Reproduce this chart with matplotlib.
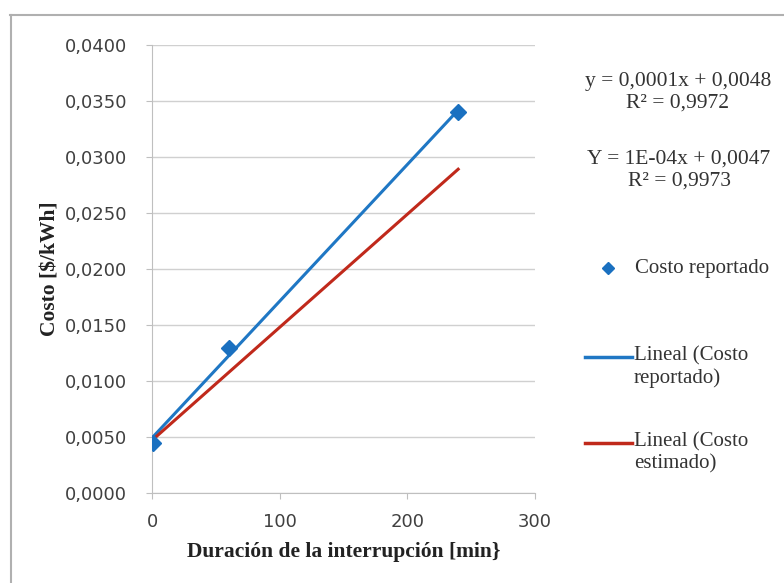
import matplotlib
matplotlib.use('Agg')
import matplotlib.pyplot as plt
from matplotlib.lines import Line2D
from matplotlib.ticker import FuncFormatter
import numpy as np

duracion = [1, 60, 240]
costo_reportado = [0.0045, 0.0130, 0.0340]
costo_estimado = [0.0048, 0.0108, 0.0289]

x_ticks = [0, 100, 200, 300]
y_ticks = np.arange(0, 0.0401, 0.005)

BLUE = '#1f77c4'
RED = '#c0291b'
W, H = 784, 583


def fx(px):
    return px / W


def fy(py):
    return 1 - py / H


def make_chart():
    fig = plt.figure(figsize=(7.84, 5.83), dpi=100)
    ax = fig.add_axes([0.194, 0.154, 0.488, 0.769])

    x = np.array(duracion)
    p1 = np.polyfit(x, costo_reportado, 1)
    p2 = np.polyfit(x, costo_estimado, 1)
    ax.plot(x, np.polyval(p1, x), color=BLUE, lw=2.2, zorder=3)
    ax.plot(x, np.polyval(p2, x), color=RED, lw=2.2, zorder=3)
    ax.plot(x, costo_reportado, 'D', color='#1a70c0', ms=8, zorder=4)

    ax.set_xlim(0, 300)
    ax.set_ylim(0, 0.04)
    ax.set_xticks(x_ticks)
    ax.set_yticks(y_ticks)
    ax.yaxis.set_major_formatter(FuncFormatter(lambda v, _: f'{v:.4f}'.replace('.', ',')))
    ax.grid(axis='y', color='#d0d0d0', lw=1)
    ax.set_axisbelow(True)
    for s in ['top', 'right']:
        ax.spines[s].set_visible(False)
    for s in ['left', 'bottom']:
        ax.spines[s].set_color('#bfbfbf')
    ax.tick_params(colors='#bfbfbf', labelcolor='#404040', labelsize=13, length=4, direction='out')
    ax.tick_params(axis='y', pad=14)
    ax.tick_params(axis='x', pad=10)

    ax.set_xlabel('Duración de la interrupción [min}', family='Liberation Serif',
                  fontweight='bold', fontsize=15.5, color='#222222', labelpad=8)
    ax.set_ylabel('Costo [$/kWh]', family='Liberation Serif',
                  fontweight='bold', fontsize=15.5, color='#222222', labelpad=3)

    serif = dict(family='Liberation Serif', color='#333333')
    eq = dict(ha='center', va='center', multialignment='center', linespacing=1.2,
              fontsize=15.5, **serif)
    fig.text(fx(678), fy(92), 'y = 0,0001x + 0,0048\nR² = 0,9972', **eq)
    fig.text(fx(679), fy(170), 'Y = 1E-04x + 0,0047\nR² = 0,9973', **eq)

    # legend drawn in figure coords
    fig.add_artist(Line2D([fx(608)], [fy(268)], marker='D', ls='none', color='#1a70c0', ms=6))
    fig.text(fx(635), fy(268), 'Costo reportado', ha='left', va='center', fontsize=15, **serif)
    leg_lines = [(BLUE, 357, 'Lineal (Costo\nreportado)'), (RED, 443, 'Lineal (Costo\nestimado)')]
    for col, py, lab in leg_lines:
        fig.add_artist(Line2D([fx(585), fx(632)], [fy(py), fy(py)], color=col, lw=2.5))
        fig.text(fx(634), fy(py - 11), lab, ha='left', va='top', multialignment='left',
                 linespacing=1.2, fontsize=15, **serif)

    # outer chart frame (top and left edges)
    fig.add_artist(Line2D([0.013, 1.0], [0.974, 0.974], color='#b0b0b0', lw=1.5))
    fig.add_artist(Line2D([0.014, 0.014], [0.0, 0.974], color='#b0b0b0', lw=1.5))

    fig.savefig('out.png', dpi=100, facecolor='white')


if __name__ == '__main__':
    make_chart()
